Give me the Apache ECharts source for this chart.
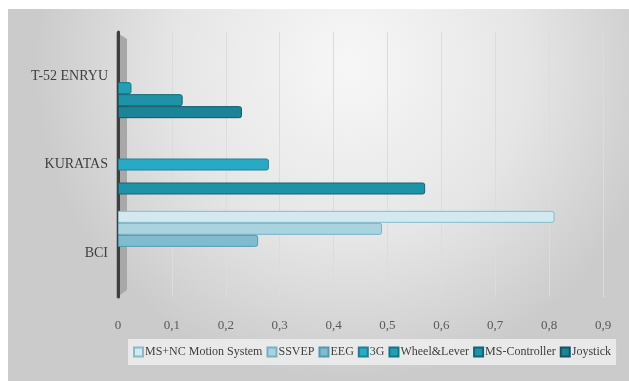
<!DOCTYPE html>
<html>
<head>
<meta charset="utf-8">
<script src="https://cdn.jsdelivr.net/npm/echarts@6/dist/echarts.min.js"></script>
<style>
  html, body { margin: 0; padding: 0; background: #fff; }
  #chart { width: 629px; height: 381px; }
</style>
</head>
<body>
<div id="chart"></div>
<script>
// categories bottom -> top
var categories = ['BCI', 'KURATAS', 'T-52 ENRYU']
var seriesNames = ['MS+NC Motion System', 'SSVEP', 'EEG', '3G', 'Wheel&Lever', 'MS-Controller', 'Joystick']
// one row per series, values per category (null = no bar)
var msncValues = [0.81, null, null]
var ssvepValues = [0.49, null, null]
var eegValues = [0.26, null, null]
var g3Values = [null, 0.28, null]
var wheelValues = [null, null, 0.025]
var msControllerValues = [null, 0.57, 0.12]
var joystickValues = [null, null, 0.23]
var xTickLabels = ['0', '0,1', '0,2', '0,3', '0,4', '0,5', '0,6', '0,7', '0,8', '0,9']

var fills = ['#d3e9f0', '#a9d3df', '#7fbdce', '#29aac4', '#1fa0b6', '#1e93a8', '#1b8498']
var borders = ['#86bccb', '#78b2c2', '#5199ad', '#1b8296', '#167585', '#136574', '#0f5663']
var allValues = [msncValues, ssvepValues, eegValues, g3Values, wheelValues, msControllerValues, joystickValues]

var chart = echarts.init(document.getElementById('chart'))

var series = seriesNames.map(function(name, i) {
  return {
    name: name,
    type: 'bar',
    data: allValues[i],
    barWidth: 12,
    barGap: '0%',
    itemStyle: {
      color: fills[i],
      borderColor: borders[i],
      borderWidth: 1,
      borderRadius: [0, 2, 2, 0]
    }
  }
})

chart.setOption({
  backgroundColor: '#fff',
  animation: false,
  graphic: [
    {
      type: 'rect',
      z: -10,
      shape: { x: 8, y: 9, width: 621, height: 372 },
      style: {
        fill: {
          type: 'radial', x: 0.55, y: 0.15, r: 0.85,
          colorStops: [
            { offset: 0, color: '#f7f7f7' },
            { offset: 0.55, color: '#e6e6e6' },
            { offset: 1, color: '#cbcbcb' }
          ]
        }
      }
    },
    {
      // side wall of the 3D plot
      type: 'polygon',
      z: -5,
      shape: { points: [[116, 32], [127, 39], [127, 290], [116, 298]] },
      style: { fill: '#a8a8a8' }
    }
  ],
  grid: {
    left: 118,
    right: 26,
    top: 32,
    bottom: 84
  },
  legend: {
    data: seriesNames,
    left: 128,
    top: 339,
    width: 520,
    padding: [7, 5],
    itemGap: 4,
    itemWidth: 9,
    itemHeight: 9,
    icon: 'rect',
    backgroundColor: 'rgba(236,236,236,0.9)',
    textStyle: {
      fontFamily: 'Liberation Serif',
      fontSize: 12,
      color: '#404040',
      padding: [0, 0, 0, -3]
    }
  },
  xAxis: {
    type: 'value',
    min: 0,
    max: 0.9,
    interval: 0.1,
    axisLine: { show: false },
    axisTick: { show: false },
    splitLine: { lineStyle: { color: '#dcdcdc', width: 1 } },
    axisLabel: {
      margin: 22,
      fontFamily: 'Liberation Serif',
      fontSize: 13,
      color: '#595959',
      formatter: function(v) {
        return xTickLabels[Math.round(v * 10)]
      }
    }
  },
  yAxis: {
    type: 'category',
    data: categories,
    axisLine: { show: true, onZero: false, lineStyle: { color: '#3f3f3f', width: 3 } },
    axisTick: { show: false },
    axisLabel: {
      margin: 10,
      fontFamily: 'Liberation Serif',
      fontSize: 14,
      color: '#404040'
    }
  },
  series: series
})
</script>
</body>
</html>
